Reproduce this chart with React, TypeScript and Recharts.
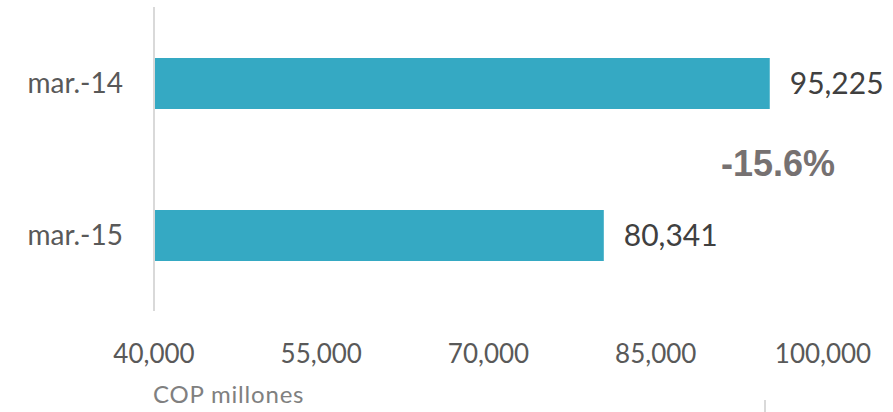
import { Bar, BarChart, LabelList, XAxis, YAxis } from 'recharts';

const periods = ['mar.-14', 'mar.-15'];
const amounts = [95225, 80341];
const xTicks = [40000, 55000, 70000, 85000, 100000];
const changeLabel = '-15.6%';
const unitLabel = 'COP millones';

const data = periods.map((p, i) => ({ period: p, value: amounts[i] }));

const fmt = (v: number) => v.toLocaleString('en-US');

const App = () => {
    return (
        <div style={{ position: 'absolute', left: 0, top: 0, width: 893, height: 412, background: '#fff', fontFamily: 'Lato, sans-serif' }}>
            <BarChart
                width={893}
                height={412}
                data={data}
                layout="vertical"
                margin={{ top: 7, right: 70, bottom: 61, left: 0 }}
                barSize={51}
            >
                <XAxis
                    type="number"
                    domain={[40000, 100000]}
                    ticks={xTicks}
                    tickFormatter={fmt}
                    axisLine={false}
                    tickLine={false}
                    tickSize={0}
                    tickMargin={34}
                    height={40}
                    tick={{ fill: '#595959', fontSize: 26 }}
                />
                <YAxis
                    type="category"
                    dataKey="period"
                    width={154}
                    axisLine={{ stroke: '#d9d9d9', strokeWidth: 2 }}
                    tickLine={false}
                    tickSize={0}
                    tickMargin={31}
                    tick={{ fill: '#595959', fontSize: 28 }}
                />
                <Bar dataKey="value" fill="#35a9c3" isAnimationActive={false}>
                    <LabelList dataKey="value" position="right" offset={20} formatter={(v: any) => fmt(Number(v))} fill="#404040" fontSize={30} />
                </Bar>
            </BarChart>
            <div style={{ position: 'absolute', left: 678, top: 146, width: 200, textAlign: 'center', fontFamily: '"Liberation Sans", Arial, sans-serif', fontWeight: 'bold', fontSize: 36, lineHeight: '36px', color: '#767171' }}>
                {changeLabel}
            </div>
            <div style={{ position: 'absolute', left: 153, top: 382, fontSize: 24, lineHeight: '24px', letterSpacing: 0.8, color: '#808080', whiteSpace: 'nowrap' }}>
                {unitLabel}
            </div>
            <div style={{ position: 'absolute', left: 764, top: 400, width: 2, height: 12, background: '#d9d9d9' }} />
        </div>
    );
};

export default App;
